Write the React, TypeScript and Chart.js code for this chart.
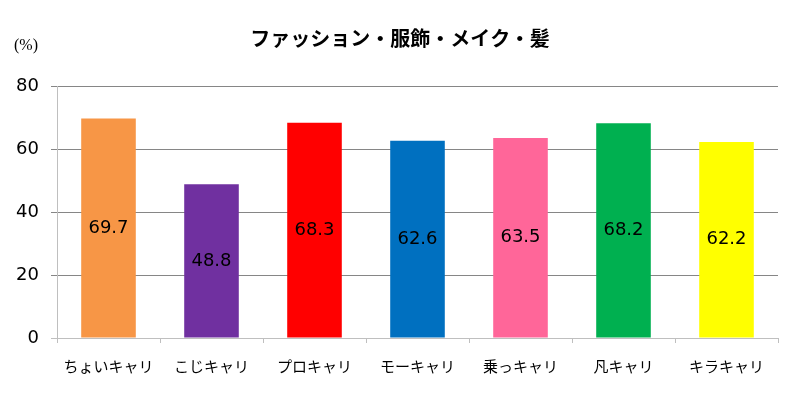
import React, { useEffect, useRef } from "react";
import { Chart, registerables } from "chart.js";

Chart.register(...registerables);

const categories = ["ちょいキャリ", "こじキャリ", "プロキャリ", "モーキャリ", "乗っキャリ", "凡キャリ", "キラキャリ"];
const values = [69.7, 48.8, 68.3, 62.6, 63.5, 68.2, 62.2];
const barColors = ["#F79646", "#7030A0", "#FF0000", "#0070C0", "#FF6699", "#00B050", "#FFFF00"];
const yTicks = [0, 20, 40, 60, 80];
const titleText = "ファッション・服飾・メイク・髪";
const unitText = "(%)";

const JP = '"Noto Sans CJK JP", "Noto Sans", sans-serif';
const NUM = '"DejaVu Sans", "Liberation Sans", Arial, sans-serif';

const overlayPlugin = {
  id: "overlay",
  afterDatasetsDraw(chart: any) {
    const ctx = chart.ctx;
    const meta = chart.getDatasetMeta(0);
    ctx.save();
    ctx.fillStyle = "#000";
    ctx.font = `18px ${NUM}`;
    ctx.textAlign = "center";
    ctx.textBaseline = "middle";
    meta.data.forEach((bar: any, i: number) => {
      const mid = (bar.y + bar.base) / 2;
      ctx.fillText(values[i].toFixed(1), bar.x, mid);
    });
    ctx.restore();
  },
  afterDraw(chart: any) {
    const ctx = chart.ctx;
    ctx.save();
    ctx.fillStyle = "#000";
    ctx.textAlign = "center";
    ctx.textBaseline = "middle";
    ctx.font = `bold 20px ${JP}`;
    ctx.fillText(titleText, 400, 38);
    ctx.font = '16px "Liberation Serif", "DejaVu Serif", serif';
    ctx.textAlign = "left";
    ctx.fillText(unitText, 14, 46);
    ctx.restore();
  },
};

export default function App() {
  const ref = useRef<HTMLCanvasElement>(null);
  useEffect(() => {
    if (!ref.current) return;
    const chart = new Chart(ref.current, {
      type: "bar",
      data: {
        labels: categories,
        datasets: [
          {
            data: values,
            backgroundColor: barColors,
            borderWidth: 0,
            barPercentage: 0.53,
            categoryPercentage: 1,
          },
        ],
      },
      options: {
        animation: false,
        responsive: false,
        maintainAspectRatio: false,
        layout: { padding: { top: 86, right: 22, left: 0, bottom: 0 } },
        plugins: {
          legend: { display: false },
          title: { display: false },
          tooltip: { enabled: false },
        },
        scales: {
          x: {
            afterFit: (s: any) => {
              s.height = 57;
            },
            grid: {
              display: true,
              drawOnChartArea: false,
              drawTicks: true,
              tickLength: 5,
              color: "#BFBFBF",
              offset: true,
            },
            border: { display: true, color: "#BFBFBF", width: 1 },
            ticks: {
              color: "#000",
              font: { family: JP, size: 15 },
              padding: 14,
              maxRotation: 0,
              autoSkip: false,
            },
          },
          y: {
            min: 0,
            max: 80,
            afterFit: (s: any) => {
              s.width = 57;
            },
            afterBuildTicks: (s: any) => {
              s.ticks = yTicks.map((v) => ({ value: v }));
            },
            grid: {
              color: (c: any) => (c.tick && c.tick.value === 0 ? "#BFBFBF" : "#868686"),
              tickLength: 6,
              drawTicks: true,
            },
            border: { display: true, color: "#BFBFBF", width: 1 },
            ticks: {
              color: "#000",
              font: { family: NUM, size: 18 },
              padding: 12,
            },
          },
        },
      },
      plugins: [overlayPlugin],
    });
    return () => chart.destroy();
  }, []);
  return (
    <div style={{ position: "fixed", left: 0, top: 0, width: 800, height: 395, background: "#fff" }}>
      <canvas ref={ref} width={800} height={395} style={{ width: 800, height: 395 }} />
    </div>
  );
}
